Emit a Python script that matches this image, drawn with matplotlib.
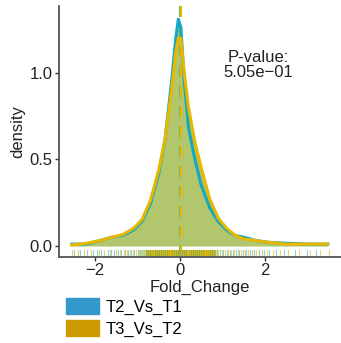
import numpy as np
import matplotlib
matplotlib.use('Agg')
import matplotlib.pyplot as plt
from matplotlib.patches import Patch
import matplotlib.transforms as mtransforms

plt.rcParams['font.family'] = ['Liberation Sans', 'DejaVu Sans']

# density curves
fc_x = [-2.55, -2.2, -1.9, -1.6, -1.35, -1.1, -0.9, -0.7, -0.5, -0.35, -0.2, -0.1,
        -0.04, 0.02, 0.1, 0.2, 0.35, 0.5, 0.7, 0.9, 1.1, 1.3, 1.5, 1.8, 2.1, 2.5, 3.0, 3.48]
t2_dens = [0.01, 0.01, 0.03, 0.05, 0.06, 0.09, 0.14, 0.24, 0.42, 0.62, 0.95, 1.2,
           1.31, 1.26, 0.95, 0.68, 0.5, 0.35, 0.22, 0.14, 0.09, 0.06, 0.05, 0.03,
           0.02, 0.015, 0.01, 0.01]
t3_dens = [0.005, 0.015, 0.03, 0.05, 0.065, 0.1, 0.15, 0.26, 0.44, 0.62, 0.9, 1.12,
           1.2, 1.2, 1.0, 0.8, 0.6, 0.45, 0.27, 0.16, 0.1, 0.06, 0.04, 0.03,
           0.02, 0.01, 0.01, 0.01]
t2_mean = -0.01
t3_mean = 0.02

# rug positions
t2_rug = [-2.5, -2.35, -2.2, -2.05, -1.95, -1.85, -1.7, -1.62, -1.55, -1.45, -1.38,
          -1.3, -1.22, -1.15, -1.08, -1.0, -0.95, -0.9, -0.85, -0.8, -0.75, -0.7,
          -0.65, -0.6, -0.55, -0.5, -0.45, -0.4, -0.35, -0.3, -0.25, -0.2, -0.15,
          -0.1, -0.05, 0.0, 0.05, 0.1, 0.15, 0.2, 0.25, 0.3, 0.35, 0.4, 0.45, 0.5,
          0.55, 0.6, 0.65, 0.7, 0.75, 0.8, 0.88, 0.95, 1.02, 1.1, 1.18, 1.25, 1.32,
          1.4, 1.48, 1.55, 1.65, 1.75, 1.85, 1.98, 2.1, 2.25, 2.45, 2.7, 3.0, 3.2]
t3_rug = [-2.55, -2.4, -2.25, -2.1, -1.9, -1.78, -1.66, -1.5, -1.42, -1.33, -1.25,
          -1.18, -1.1, -1.03, -0.97, -0.92, -0.87, -0.82, -0.78, -0.72, -0.67, -0.62,
          -0.57, -0.52, -0.47, -0.42, -0.37, -0.32, -0.27, -0.22, -0.17, -0.12,
          -0.07, -0.02, 0.03, 0.08, 0.12, 0.17, 0.22, 0.27, 0.32, 0.37, 0.42, 0.47,
          0.52, 0.57, 0.62, 0.67, 0.72, 0.78, 0.84, 0.9, 0.98, 1.05, 1.12, 1.2,
          1.28, 1.36, 1.44, 1.52, 1.6, 1.7, 1.8, 1.92, 2.05, 2.2, 2.35, 2.55, 2.8,
          3.05, 3.3, 3.5]

labels = ['T2_Vs_T1', 'T3_Vs_T2']
line_cols = ['#14a8c2', '#e8b800']
legend_cols = ['#3399cc', '#cc9900']
fill_col = '#b2c66e'

fig = plt.figure(figsize=(3.41, 3.43), dpi=100)
ax = fig.add_axes([0.173, 0.251, 0.827, 0.732])

ax.fill_between(fc_x, 0, t2_dens, color=fill_col, lw=0, zorder=1)
ax.fill_between(fc_x, 0, t3_dens, color=fill_col, lw=0, zorder=1)
ax.plot(fc_x, t2_dens, color=line_cols[0], lw=2.2, zorder=3, solid_joinstyle='round')
ax.plot(fc_x, t3_dens, color=line_cols[1], lw=2.2, zorder=4, solid_joinstyle='round')
ax.axvline(t2_mean, color='#6fb56a', lw=1.6, ls=(0, (5, 4)), zorder=2)
ax.axvline(t3_mean, color=line_cols[1], lw=1.6, ls=(0, (5, 4)), zorder=2)

trans = mtransforms.blended_transform_factory(ax.transData, ax.transAxes)
for v in t2_rug:
    ax.plot([v, v], [0.0, 0.028], color=line_cols[0], lw=0.8, alpha=0.5, transform=trans)
for v in t3_rug:
    ax.plot([v, v], [0.0, 0.028], color=line_cols[1], lw=0.8, alpha=0.6, transform=trans)
# dense centre of the rug
ax.fill_between([-0.8, 0.85], 0.0, 0.028, color=line_cols[1], lw=0, transform=trans)

ax.text(1.85, 1.045, 'P-value:\n5.05e\u221201', ha='center', va='center', fontsize=12,
        color='#222222', linespacing=1.0)

ax.set_xlim(-2.85, 3.79)
ax.set_ylim(-0.064, 1.387)
ax.set_xticks([-2, 0, 2])
ax.set_xticklabels(['\u22122', '0', '2'])
ax.set_yticks([0.0, 0.5, 1.0])
ax.set_yticklabels(['0.0', '0.5', '1.0'])
ax.tick_params(labelsize=12, length=3, width=1, pad=1.5, colors='#333333',
               labelcolor='#222222')
for s in ['top', 'right']:
    ax.spines[s].set_visible(False)
for s in ['left', 'bottom']:
    ax.spines[s].set_color('#555555')
    ax.spines[s].set_linewidth(1.3)
ax.set_xlabel('Fold_Change', fontsize=12, labelpad=1, color='#222222')
ax.set_ylabel('density', fontsize=12, labelpad=3, color='#222222')

handles = [Patch(color=c) for c in legend_cols]
fig.legend(handles, labels, loc='upper left', bbox_to_anchor=(0.193, 0.132),
           frameon=False, fontsize=12, handlelength=2.0, handleheight=1.1,
           handletextpad=0.4, labelspacing=0.35, borderpad=0, borderaxespad=0)

fig.savefig('out.png', dpi=100)
